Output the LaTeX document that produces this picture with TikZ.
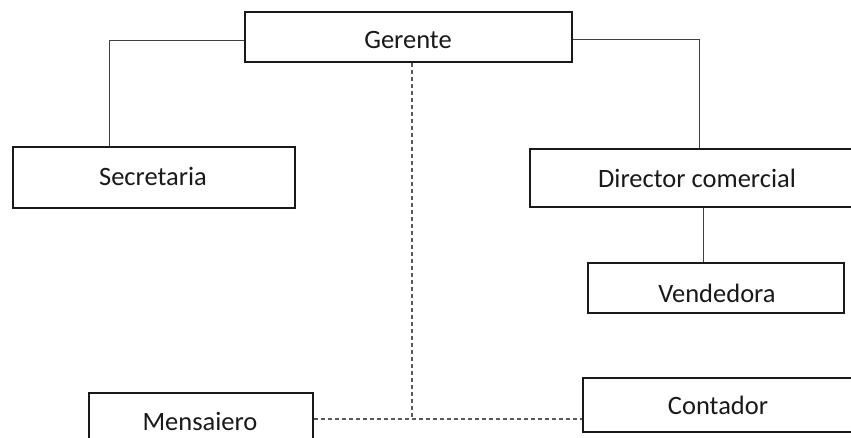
\documentclass[tikz,border=0pt]{standalone}
\usepackage{fontspec}
\setmainfont{Carlito}
\begin{document}
\begin{tikzpicture}[x=1pt,y=-1pt,
  box/.style={draw=black!90,line width=1.8pt,inner sep=0pt,fill=white},
  lbl/.style={inner sep=0pt,font=\fontsize{26.5}{31}\selectfont,text=black!90},
  conn/.style={draw=black!75,line width=1pt},
  dconn/.style={draw=black!65,line width=1.2pt,dash pattern=on 4pt off 3pt}]
\useasboundingbox (0,0) rectangle (851,437);
\clip (0,0) rectangle (851,437);
% boxes
\node[box,minimum width=327pt,minimum height=50pt] (g) at (408.5,37) {};
\node[box,minimum width=282pt,minimum height=61pt] (s) at (154,177.5) {};
\node[box,minimum width=340pt,minimum height=58pt] (d) at (700,178) {};
\node[box,minimum width=256pt,minimum height=50pt] (v) at (716,288) {};
\node[box,minimum width=224pt,minimum height=60pt] (m) at (201,423) {};
\node[box,minimum width=300pt,minimum height=54pt] (c) at (733,405) {};
% labels
\node[lbl] (gt) at (408,40) {Gerente};
\node[lbl] (st) at (153,176) {Secretaria};
\node[lbl] (dt) at (697,178) {Director comercial};
\node[lbl] (vt) at (717,293) {Vendedora};
\node[lbl] (mt) at (200,421) {Mensaiero};
\node[lbl] (ct) at (718,405) {Contador};
% connectors
\coordinate (jl) at (109,40);
\coordinate (jr) at (699,39);
\coordinate (jm) at (412,419);
\draw[conn] (g.west |- jl) -- (jl) -- (jl |- s.north);
\draw[conn] (g.east |- jr) -- (jr) -- (jr |- d.north);
\draw[conn] (d.south -| 703,0) -- (v.north -| 703,0);
\draw[dconn] (g.south -| jm) -- (jm);
\draw[dconn] (m.east |- jm) -- (c.west |- jm);
\end{tikzpicture}
\end{document}
